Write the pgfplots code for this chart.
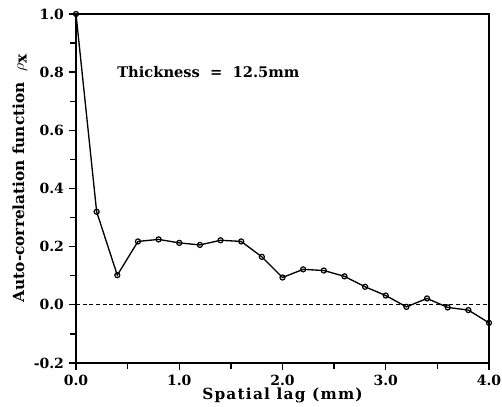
\documentclass[border=0pt]{standalone}
\usepackage{fontspec}
\setmainfont{DejaVu Serif}
\newfontfamily\lsfont{DejaVu Serif}[LetterSpace=8]
\usepackage{pgfplots}
\pgfplotsset{compat=1.18}
\begin{document}
\begin{tikzpicture}
\begin{axis}[
  scale only axis, width=309.75pt, height=261.75pt,
  xmin=0, xmax=4, ymin=-0.2, ymax=1.0,
  xtick={0,1,2,3,4}, minor xtick={0.5,1.5,2.5,3.5},
  ytick={-0.2,0,0.2,0.4,0.6,0.8,1.0}, minor ytick={-0.1,0.1,0.3,0.5,0.7,0.9},
  tick align=outside, xtick pos=bottom, ytick pos=left,
  major tick length=5.5pt, minor tick length=4.5pt,
  every tick/.style={black, line width=1pt},
  axis line style={line width=1.2pt},
  /pgf/number format/assume math mode=true,
  ticklabel style={font=\fontsize{10.5}{12}\selectfont\bfseries},
  xticklabel style={/pgf/number format/.cd, fixed, fixed zerofill, precision=1},
  yticklabel style={/pgf/number format/.cd, fixed, fixed zerofill, precision=1},
  xlabel={\fontsize{11.5}{13}\lsfont\bfseries Spatial lag (mm)},
  ylabel={\fontsize{11.5}{13}\selectfont\bfseries Auto-correlation function \ $\rho_{\textbf{x}}$},
  every axis x label/.style={at={(axis description cs:0.5,-0.092)}, anchor=center},
  every axis y label/.style={at={(axis description cs:-0.136,0.53)}, anchor=center, rotate=90},
  clip=false,
]
\addplot[black, line width=0.6pt, dash pattern=on 3pt off 2pt] coordinates {(0,0) (4,0)};
\addplot[black, line width=1pt, mark=o, mark size=1.9pt, mark options={fill=white, solid, line width=0.9pt}] coordinates {
(0.0,1.0) (0.2,0.320) (0.4,0.102) (0.6,0.218) (0.8,0.225) (1.0,0.213) (1.2,0.206)
(1.4,0.222) (1.6,0.218) (1.8,0.165) (2.0,0.094) (2.2,0.122) (2.4,0.118) (2.6,0.098)
(2.8,0.062) (3.0,0.032) (3.2,-0.007) (3.4,0.022) (3.6,-0.009) (3.8,-0.018) (4.0,-0.062)
};
\node[anchor=west, inner sep=0pt, font=\fontsize{11}{13}\selectfont\bfseries] at (axis cs:0.397,0.80) {Thickness\ \ =\ \ 12.5mm};
\end{axis}
\pgfresetboundingbox
\path[use as bounding box] (current axis.south west) ++(-57pt,-32.25pt) rectangle ([shift={(9.75pt,10.5pt)}]current axis.north east);
\end{tikzpicture}
\end{document}
